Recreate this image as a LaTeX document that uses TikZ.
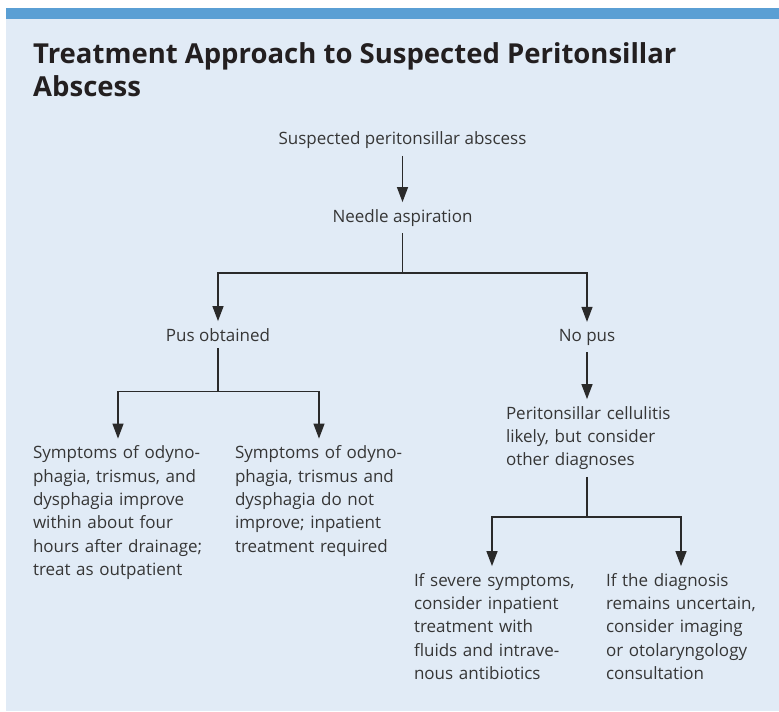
\documentclass[tikz,border=0pt]{standalone}
\usepackage{fontspec}
\setmainfont{Open Sans}
\usetikzlibrary{arrows.meta}
\definecolor{barblue}{HTML}{5A9FD4}
\definecolor{bgblue}{HTML}{E1EBF6}
\definecolor{txt}{HTML}{363636}
\definecolor{ttl}{HTML}{231F20}
\definecolor{lin}{HTML}{2A2A2A}
\begin{document}
\begin{tikzpicture}[x=1pt,y=-1pt,
  lbl/.style={inner sep=0pt, outer sep=7pt, text=txt, font=\fontsize{17}{23.4}\selectfont},
  blk/.style={lbl, anchor=north, text width=#1, align=left},
  conn/.style={draw=lin, line width=1.3pt},
  arr/.style={conn, -{Triangle[length=15pt,width=11pt]}}]
\useasboundingbox (0,0) rectangle (779,712);
\fill[white] (0,0) rectangle (779,712);
\fill[bgblue] (6,18) rectangle (779,711);
\fill[barblue] (6,7.5) rectangle (779,18.5);
\node[anchor=north west, inner sep=0pt, text=ttl, align=left,
      font=\bfseries\fontsize{27.5}{32.7}\selectfont] (title) at (33,42.4)
  {Treatment Approach to Suspected Peritonsillar\\Abscess};
\node[lbl, anchor=base] (susp) at (402.5,144.8) {Suspected peritonsillar abscess};
\node[lbl, anchor=base] (needle) at (402.5,222) {Needle aspiration};
\node[lbl, anchor=base] (pus) at (218,341) {Pus obtained};
\node[lbl, anchor=base] (nopus) at (587,341) {No pus};
\node[blk=170pt] (left) at (118,438.6)
  {\mbox{Symptoms of odyno-}\\\mbox{phagia, trismus, and}\\\mbox{dysphagia improve}\\\mbox{within about four}\\\mbox{hours after drainage;}\\\mbox{treat as outpatient}};
\node[blk=168pt] (mid) at (319,438.6)
  {\mbox{Symptoms of odyno-}\\\mbox{phagia, trismus and}\\\mbox{dysphagia do not}\\\mbox{improve; inpatient}\\\mbox{treatment required}};
\node[blk=162pt] (perit) at (587,399.1)
  {\mbox{Peritonsillar cellulitis}\\\mbox{likely, but consider}\\\mbox{other diagnoses}};
\node[blk=156pt] (sev) at (492,566.1)
  {\mbox{If severe symptoms,}\\\mbox{consider inpatient}\\\mbox{treatment with}\\\mbox{fluids and intrave-}\\\mbox{nous antibiotics}};
\node[blk=150pt] (diag) at (681,566.1)
  {\mbox{If the diagnosis}\\\mbox{remains uncertain,}\\\mbox{consider imaging}\\\mbox{or otolaryngology}\\\mbox{consultation}};
\coordinate (j1) at (402.5,273);
\coordinate (j2) at (218,391.5);
\coordinate (j3) at (587,517);
\draw[arr] (susp.south) -- (needle.north);
\draw[conn] (needle.south) -- (j1);
\draw[arr] (j1) -| (pus.north);
\draw[arr] (j1) -| (nopus.north);
\draw[conn] (pus.south) -- (j2);
\draw[arr] (j2) -| (left.north);
\draw[arr] (j2) -| (mid.north);
\draw[arr] (nopus.south) -- (perit.north);
\draw[conn] (perit.south) -- (j3);
\draw[arr] (j3) -| (sev.north);
\draw[arr] (j3) -| (diag.north);
\end{tikzpicture}
\end{document}
